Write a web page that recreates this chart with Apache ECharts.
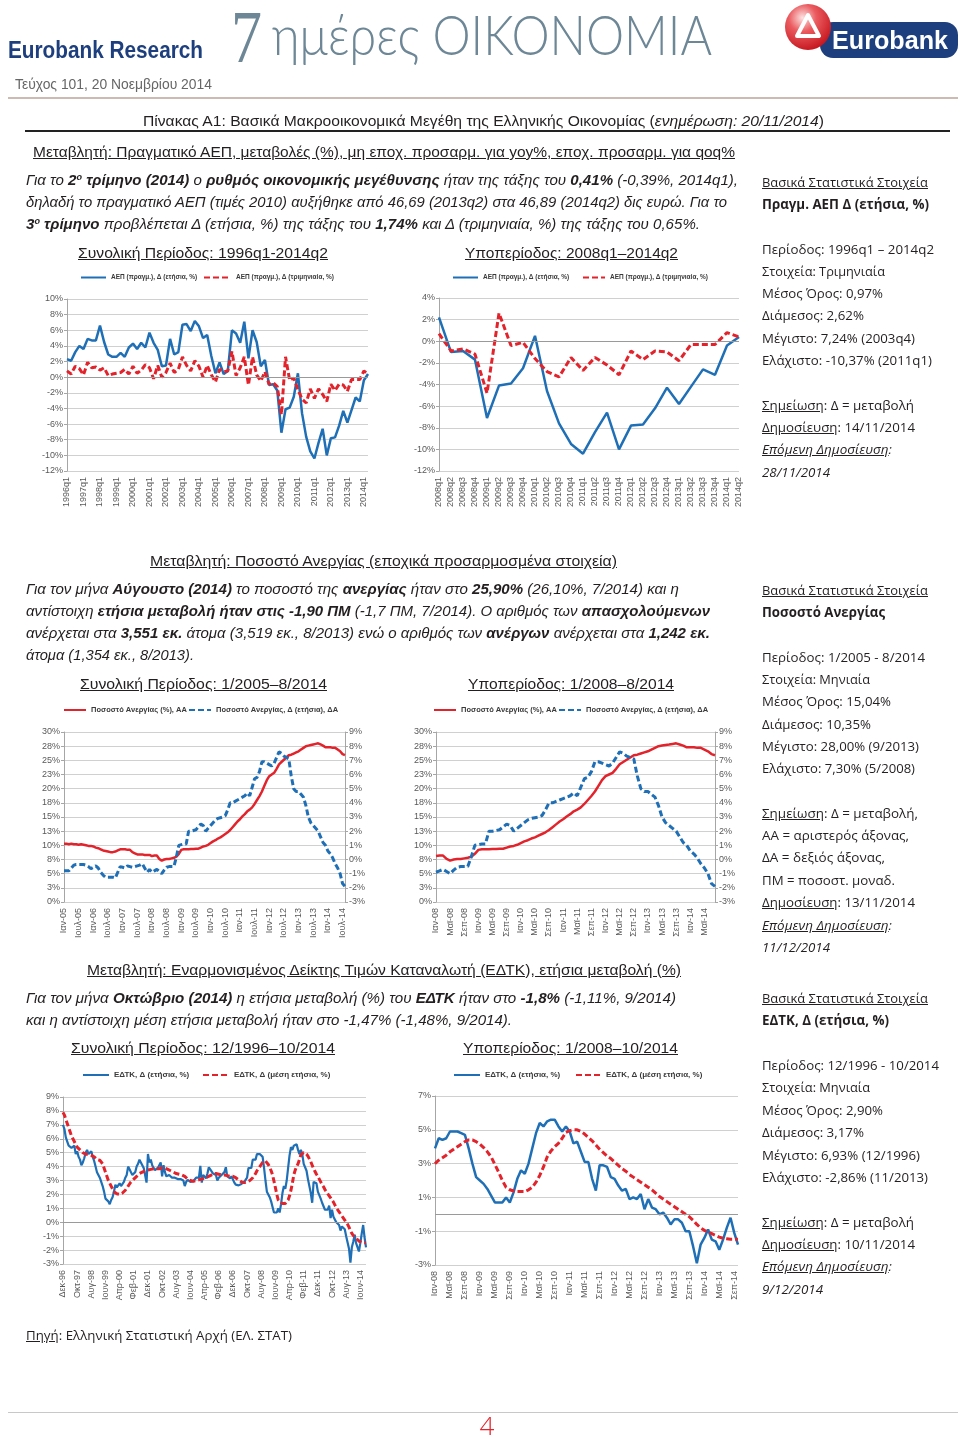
<!DOCTYPE html>
<html><head><meta charset="utf-8">
<script src="https://cdn.jsdelivr.net/npm/echarts@6/dist/echarts.min.js"></script>
<style>
html,body{margin:0;padding:0;background:#fff;}
#page{position:relative;width:960px;height:1438px;overflow:hidden;background:#fff;}
#chart{position:absolute;left:0;top:0;width:960px;height:1438px;}
.t{position:absolute;white-space:nowrap;transform-origin:0 50%;height:20px;line-height:20px;font-family:'Liberation Sans Narrow','Liberation Sans',Arial,sans-serif;font-size:15.5px;color:#231f20;z-index:2;}
.i{font-style:italic;}
.u{text-decoration:underline;}
.r{font-family:'Open Sans','Liberation Sans',sans-serif;font-size:13.5px;}
sup{font-size:0.6em;vertical-align:0.55em;line-height:0;}
.hl{position:absolute;z-index:2;}
</style></head>
<body><div id="page">
<div id="chart"></div>

<svg class="hl" style="left:0;top:0" width="960" height="100">
  <defs>
    <radialGradient id="rg" cx="38%" cy="30%" r="75%">
      <stop offset="0" stop-color="#fde3e2"/><stop offset="0.4" stop-color="#ea5b5f"/><stop offset="1" stop-color="#c4121b"/>
    </radialGradient>
  </defs>
  <text x="8" y="58" font-family="Liberation Sans Narrow, Liberation Sans, Arial" font-weight="bold" font-size="24" fill="#1d3f7e" textLength="195" lengthAdjust="spacingAndGlyphs">Eurobank Research</text>
  <text x="231" y="62" font-family="Liberation Serif, DejaVu Serif, serif" font-size="74" fill="#6d8796" textLength="31" lengthAdjust="spacingAndGlyphs">7</text>
  <text x="272" y="55" font-family="Lato, Open Sans, sans-serif" font-weight="300" font-size="56" fill="#6d8796" textLength="440" lengthAdjust="spacingAndGlyphs">ημέρες ΟΙΚΟΝΟΜΙΑ</text>
  <rect x="820" y="22" width="138" height="36" rx="13" fill="#1d3f7e"/>
  <circle cx="808" cy="27" r="23" fill="url(#rg)"/>
  <path d="M797 36 L808 15 L819 36 Z" fill="none" stroke="#fff" stroke-width="4" stroke-linejoin="round"/>
  <text x="832" y="49" font-family="Liberation Sans, Arial" font-weight="bold" font-size="25" fill="#fff" textLength="116" lengthAdjust="spacingAndGlyphs">Eurobank</text>
  <text x="15" y="89" font-family="Liberation Sans Narrow, Liberation Sans, Arial" font-size="14" fill="#666" textLength="197" lengthAdjust="spacingAndGlyphs">Τεύχος 101, 20 Νοεμβρίου 2014</text>
  <line x1="8" y1="98" x2="958" y2="98" stroke="#cdbab2" stroke-width="2"/>
</svg>

<div class="t" style="left:143px;top:111px" data-w="681">Πίνακας Α1: Βασικά Μακροοικονομικά Μεγέθη της Ελληνικής Οικονομίας (<span class="i">ενημέρωση: 20/11/2014</span>)</div>
<div class="hl" style="left:25px;top:130px;width:925px;height:2px;background:#222"></div>

<!-- Section 1 -->
<div class="t u" style="left:33px;top:142px" data-w="702">Μεταβλητή: Πραγματικό ΑΕΠ, μεταβολές (%), μη εποχ. προσαρμ. για yoy%, εποχ. προσαρμ. για qoq%</div>
<div class="t i" style="left:26px;top:170px" data-w="712">Για το <b>2<sup>ο</sup> τρίμηνο (2014)</b> ο <b>ρυθμός οικονομικής μεγέθυνσης</b> ήταν της τάξης του <b>0,41%</b> (-0,39%, 2014q1),</div>
<div class="t i" style="left:26px;top:192px" data-w="701">δηλαδή το πραγματικό ΑΕΠ (τιμές 2010) αυξήθηκε από 46,69 (2013q2) στα 46,89 (2014q2) δις ευρώ. Για το</div>
<div class="t i" style="left:26px;top:214px" data-w="674"><b>3<sup>ο</sup> τρίμηνο</b> προβλέπεται Δ (ετήσια, %) της τάξης του <b>1,74%</b> και Δ (τριμηνιαία, %) της τάξης του 0,65%.</div>
<div class="t u" style="left:78px;top:243px" data-w="250">Συνολική Περίοδος: 1996q1-2014q2</div>
<div class="t u" style="left:465px;top:243px" data-w="213">Υποπερίοδος: 2008q1–2014q2</div>

<div class="t r" style="left:762px;top:172px" data-w="166"><span class="u">Βασικά Στατιστικά Στοιχεία</span></div>
<div class="t r" style="left:762px;top:194px" data-w="167"><b>Πραγμ. ΑΕΠ Δ (ετήσια, %)</b></div>
<div class="t r" style="left:762px;top:239px" data-w="172">Περίοδος: 1996q1 – 2014q2</div>
<div class="t r" style="left:762px;top:261px" data-w="123">Στοιχεία: Τριμηνιαία</div>
<div class="t r" style="left:762px;top:283px" data-w="121">Μέσος Όρος: 0,97%</div>
<div class="t r" style="left:762px;top:305px" data-w="102">Διάμεσος: 2,62%</div>
<div class="t r" style="left:762px;top:328px" data-w="153">Μέγιστο: 7,24% (2003q4)</div>
<div class="t r" style="left:762px;top:350px" data-w="170">Ελάχιστο: -10,37% (2011q1)</div>
<div class="t r" style="left:762px;top:395px" data-w="152"><span class="u">Σημείωση</span>: Δ = μεταβολή</div>
<div class="t r" style="left:762px;top:417px" data-w="153"><span class="u">Δημοσίευση</span>: 14/11/2014</div>
<div class="t r i" style="left:762px;top:439px" data-w="130"><span class="u">Επόμενη Δημοσίευση</span>:</div>
<div class="t r i" style="left:762px;top:462px" data-w="68">28/11/2014</div>

<!-- Section 2 -->
<div class="t u" style="left:150px;top:551px" data-w="467">Μεταβλητή: Ποσοστό Ανεργίας (εποχικά προσαρμοσμένα στοιχεία)</div>
<div class="t i" style="left:26px;top:579px" data-w="653">Για τον μήνα <b>Αύγουστο (2014)</b> το ποσοστό της <b>ανεργίας</b> ήταν στο <b>25,90%</b> (26,10%, 7/2014) και η</div>
<div class="t i" style="left:26px;top:601px" data-w="684">αντίστοιχη <b>ετήσια μεταβολή ήταν στις -1,90 ΠΜ</b> (-1,7 ΠΜ, 7/2014). Ο αριθμός των <b>απασχολούμενων</b></div>
<div class="t i" style="left:26px;top:623px" data-w="684">ανέρχεται στα <b>3,551 εκ.</b> άτομα (3,519 εκ., 8/2013) ενώ ο αριθμός των <b>ανέργων</b> ανέρχεται στα <b>1,242 εκ.</b></div>
<div class="t i" style="left:26px;top:645px" data-w="168">άτομα (1,354 εκ., 8/2013).</div>
<div class="t u" style="left:80px;top:674px" data-w="247">Συνολική Περίοδος: 1/2005–8/2014</div>
<div class="t u" style="left:468px;top:674px" data-w="206">Υποπερίοδος: 1/2008–8/2014</div>

<div class="t r" style="left:762px;top:580px" data-w="166"><span class="u">Βασικά Στατιστικά Στοιχεία</span></div>
<div class="t r" style="left:762px;top:602px" data-w="123"><b>Ποσοστό Ανεργίας</b></div>
<div class="t r" style="left:762px;top:647px" data-w="163">Περίοδος: 1/2005 - 8/2014</div>
<div class="t r" style="left:762px;top:669px" data-w="108">Στοιχεία: Μηνιαία</div>
<div class="t r" style="left:762px;top:691px" data-w="129">Μέσος Όρος: 15,04%</div>
<div class="t r" style="left:762px;top:714px" data-w="109">Διάμεσος: 10,35%</div>
<div class="t r" style="left:762px;top:736px" data-w="157">Μέγιστο: 28,00% (9/2013)</div>
<div class="t r" style="left:762px;top:758px" data-w="153">Ελάχιστο: 7,30% (5/2008)</div>
<div class="t r" style="left:762px;top:803px" data-w="156"><span class="u">Σημείωση</span>: Δ = μεταβολή,</div>
<div class="t r" style="left:762px;top:825px" data-w="147">ΑΑ = αριστερός άξονας,</div>
<div class="t r" style="left:762px;top:847px" data-w="123">ΔΑ = δεξιός άξονας,</div>
<div class="t r" style="left:762px;top:870px" data-w="133">ΠΜ = ποσοστ. μοναδ.</div>
<div class="t r" style="left:762px;top:892px" data-w="153"><span class="u">Δημοσίευση</span>: 13/11/2014</div>
<div class="t r i" style="left:762px;top:915px" data-w="130"><span class="u">Επόμενη Δημοσίευση</span>:</div>
<div class="t r i" style="left:762px;top:937px" data-w="68">11/12/2014</div>

<!-- Section 3 -->
<div class="t u" style="left:87px;top:960px" data-w="594">Μεταβλητή: Εναρμονισμένος Δείκτης Τιμών Καταναλωτή (ΕΔΤΚ), ετήσια μεταβολή (%)</div>
<div class="t i" style="left:26px;top:988px" data-w="650">Για τον μήνα <b>Οκτώβριο (2014)</b> η ετήσια μεταβολή (%) του <b>ΕΔΤΚ</b> ήταν στο <b>-1,8%</b> (-1,11%, 9/2014)</div>
<div class="t i" style="left:26px;top:1010px" data-w="486">και η αντίστοιχη μέση ετήσια μεταβολή ήταν στο -1,47% (-1,48%, 9/2014).</div>
<div class="t u" style="left:71px;top:1038px" data-w="264">Συνολική Περίοδος: 12/1996–10/2014</div>
<div class="t u" style="left:463px;top:1038px" data-w="215">Υποπερίοδος: 1/2008–10/2014</div>

<div class="t r" style="left:762px;top:988px" data-w="166"><span class="u">Βασικά Στατιστικά Στοιχεία</span></div>
<div class="t r" style="left:762px;top:1010px" data-w="127"><b>ΕΔΤΚ, Δ (ετήσια, %)</b></div>
<div class="t r" style="left:762px;top:1055px" data-w="177">Περίοδος: 12/1996 - 10/2014</div>
<div class="t r" style="left:762px;top:1077px" data-w="108">Στοιχεία: Μηνιαία</div>
<div class="t r" style="left:762px;top:1100px" data-w="121">Μέσος Όρος: 2,90%</div>
<div class="t r" style="left:762px;top:1122px" data-w="102">Διάμεσος: 3,17%</div>
<div class="t r" style="left:762px;top:1145px" data-w="158">Μέγιστο: 6,93% (12/1996)</div>
<div class="t r" style="left:762px;top:1167px" data-w="166">Ελάχιστο: -2,86% (11/2013)</div>
<div class="t r" style="left:762px;top:1212px" data-w="152"><span class="u">Σημείωση</span>: Δ = μεταβολή</div>
<div class="t r" style="left:762px;top:1234px" data-w="153"><span class="u">Δημοσίευση</span>: 10/11/2014</div>
<div class="t r i" style="left:762px;top:1256px" data-w="130"><span class="u">Επόμενη Δημοσίευση</span>:</div>
<div class="t r i" style="left:762px;top:1279px" data-w="61">9/12/2014</div>

<div class="t r" style="left:26px;top:1325px" data-w="266"><span class="u">Πηγή</span>: Ελληνική Στατιστική Αρχή (ΕΛ. ΣΤΑΤ)</div>
<div class="hl" style="left:8px;top:1412px;width:950px;height:1px;background:#c8c8c8"></div>
<div class="hl" style="left:477px;top:1410px;width:20px;height:30px;line-height:30px;text-align:center;font-family:'Open Sans','Liberation Sans',sans-serif;font-weight:300;font-size:26px;color:#e3232b">4</div>
</div>

<script>
// ---------- DATA ----------
const monthNames = ['Ιαν','Φεβ','Μαρ','Απρ','Μαϊ','Ιουν','Ιουλ','Αυγ','Σεπ','Οκτ','Νοε','Δεκ'];

// Real GDP, 1996q1 - 2014q2
const gdpYoY = [
  2.3,2.1,3.2,4.0,  3.6,4.9,4.7,4.7,  6.6,4.5,2.9,2.6,  2.6,3.1,2.6,3.8,
  4.3,3.6,4.4,3.8,  5.7,4.4,3.5,1.4,  1.5,4.9,2.9,3.2,  6.7,6.8,5.9,7.2,
  6.5,5.0,5.4,2.7,  0.5,1.9,0.4,0.8,  6.0,5.6,4.4,7.1,  2.4,6.0,4.5,1.4,
  2.2,-1.0,-0.9,-1.7, -7.1,-4.1,-3.9,-2.5, 0.5,-4.6,-7.6,-9.5, -10.4,-8.4,-6.6,-10.0,
  -7.8,-7.7,-6.2,-4.3, -5.8,-4.2,-2.6,-3.1, -0.4,0.4
];
const gdpQoQ = [
  0.8,0.4,1.4,1.1,  0.3,1.9,1.2,1.3,  0.9,1.2,0.2,0.4,  0.5,0.6,1.0,0.4,
  1.4,0.5,0.9,1.6,  1.2,-0.2,1.5,0.0, 0.6,1.8,0.6,1.0,  2.6,1.5,0.8,2.1,
  1.4,0.0,1.5,0.3,  -0.6,1.0,0.7,0.8, 3.3,0.2,1.2,2.6,  -1.0,2.6,0.3,-0.5,
  0.7,-0.9,-0.7,-1.2, -4.8,2.6,-0.4,-0.1, -1.6,-2.8,-3.3,-1.5, -2.7,-1.5,-2.2,-3.1,
  -0.9,-1.7,-0.9,-1.0, -1.8,-0.3,-0.3,-0.3, 0.8,0.4
];

// Unemployment rate (%), 1/2005 - 8/2014
const unempRate = [
  10.3,10.3,10.2,10.3,10.2,10.2,10.1,10.2,10.1,10.0,9.9,9.9,
  9.8,9.6,9.5,9.3,9.1,9.0,8.9,8.8,8.8,8.9,9.1,9.3,
  9.3,9.3,9.2,9.2,8.8,8.6,8.4,8.4,8.4,8.3,8.3,8.3,
  8.1,8.2,8.2,7.6,7.3,7.5,7.6,7.6,7.7,7.8,8.0,8.5,
  9.2,9.3,9.3,9.3,9.35,9.35,9.4,9.4,9.6,9.8,9.9,10.1,
  10.4,10.7,10.9,11.2,11.4,11.7,12.0,12.3,12.7,13.2,13.7,14.2,
  14.6,15.1,15.5,16.0,16.3,16.7,17.3,18.0,18.7,19.5,20.5,21.5,
  22.2,22.5,22.8,23.5,24.3,24.7,25.1,25.5,25.9,26.0,26.2,26.4,
  26.6,26.9,27.2,27.5,27.6,27.7,27.8,27.9,28.0,27.8,27.6,27.3,
  27.3,27.3,27.2,27.2,26.9,26.6,26.1,25.9
];
// Unemployment rate, annual change (pp)
const unempChange = [
  -0.8,-0.8,-0.8,-0.6,-0.4,-0.35,-0.35,-0.35,-0.35,-0.4,-0.5,-0.65,
  -0.55,-0.45,-0.6,-0.9,-1.1,-1.25,-1.25,-1.25,-1.25,-1.3,-0.9,-0.5,
  -0.55,-0.6,-0.45,-0.5,-0.55,-0.5,-0.45,-0.4,-0.3,-0.6,-0.9,-0.7,
  -0.9,-0.8,-0.7,-0.85,-1.0,-0.75,-0.55,-0.5,-0.5,-0.5,0.2,1.0,
  1.05,1.1,1.1,2.0,2.0,2.05,2.1,2.3,2.5,2.4,2.0,2.2,
  2.4,2.6,2.8,2.9,2.95,3.0,3.1,3.5,4.0,4.0,4.1,4.2,
  4.3,4.4,4.5,4.7,4.5,5.1,5.7,5.8,6.2,6.9,6.9,6.8,
  6.7,6.6,6.8,7.2,7.6,7.5,7.3,7.2,7.1,5.9,5.0,4.8,
  4.8,4.6,4.4,3.8,3.0,2.6,2.4,2.2,2.0,1.6,1.2,1.0,
  0.6,0.4,0.1,-0.3,-0.6,-1.0,-1.7,-1.9
];

// HICP annual change (%), 12/1996 - 10/2014
const hicpAnnual = [
  7.0,
  6.7,6.1,5.8,5.5,5.5,5.35,5.3,5.5,4.9,5.1,4.7,4.5,
  4.1,4.3,4.6,5.0,5.2,4.9,5.0,5.1,4.7,4.4,4.0,3.6,
  3.4,3.2,3.2,2.6,2.2,1.7,1.6,1.5,1.3,1.6,1.8,2.2,
  2.7,2.5,2.6,2.8,2.6,2.7,2.9,3.2,3.4,4.0,3.8,3.6,
  3.4,3.5,3.6,4.0,4.2,4.5,4.3,4.2,3.9,3.4,2.85,4.9,
  4.3,4.5,4.1,3.9,3.75,3.65,3.9,4.0,4.3,3.3,4.1,3.6,
  3.3,3.4,3.4,3.3,3.2,3.15,3.2,3.15,3.1,3.05,3.1,3.05,
  3.0,2.6,2.9,3.05,2.95,2.9,2.8,2.95,3.05,3.2,3.3,3.2,
  4.05,2.85,3.4,3.4,3.15,3.5,3.95,3.8,3.75,3.5,3.45,3.4,
  3.0,3.2,3.3,3.4,3.35,3.6,3.95,3.3,3.2,3.15,3.3,3.2,
  2.85,2.7,2.6,2.65,2.7,2.75,2.8,2.9,2.9,3.2,3.9,3.9,
  3.9,4.5,4.4,4.5,4.9,4.9,4.9,4.8,4.7,3.9,3.0,2.2,
  2.0,1.8,1.5,1.1,0.7,0.7,0.7,1.0,0.7,1.3,2.1,2.6,
  2.4,3.0,3.9,4.8,5.4,5.2,5.5,5.6,5.6,5.2,4.9,5.2,
  4.9,4.2,4.3,3.7,3.1,3.1,2.1,1.4,2.9,2.9,2.8,2.2,
  2.1,1.7,1.4,1.5,0.9,1.0,0.9,1.2,0.3,0.9,0.4,0.3,
  0.0,0.1,-0.2,-0.6,-0.3,-0.3,-0.5,-1.0,-1.0,-1.9,-2.9,-1.8,
  -1.4,-0.9,-1.5,-1.6,-2.1,-1.5,-0.8,-0.2,-1.1,-1.8
];
// HICP average annual change (%)
const hicpAvg = [
  7.9,
  7.7,7.4,7.1,6.8,6.5,6.2,6.0,5.8,5.6,5.4,5.3,5.2,
  5.1,5.0,4.95,4.9,4.9,4.85,4.85,4.8,4.75,4.7,4.6,4.5,
  4.5,4.45,4.4,4.2,3.9,3.6,3.3,3.0,2.8,2.6,2.4,2.2,
  2.1,2.05,2.0,2.0,2.05,2.1,2.2,2.3,2.45,2.6,2.75,2.9,
  3.0,3.1,3.2,3.3,3.4,3.5,3.55,3.6,3.65,3.7,3.7,3.75,
  3.8,3.8,3.85,3.85,3.85,3.85,3.85,3.85,3.9,3.9,3.9,3.9,
  3.85,3.8,3.75,3.7,3.65,3.6,3.55,3.5,3.5,3.45,3.45,3.4,
  3.35,3.3,3.2,3.1,3.05,3.0,2.95,2.95,2.95,3.0,3.0,3.05,
  3.1,3.1,3.15,3.2,3.2,3.25,3.3,3.35,3.4,3.45,3.5,3.5,
  3.45,3.45,3.4,3.4,3.4,3.4,3.35,3.35,3.3,3.3,3.3,3.3,
  3.25,3.2,3.15,3.05,2.95,2.9,2.85,2.85,2.85,2.9,2.95,3.0,
  3.0,3.2,3.35,3.5,3.7,3.85,4.0,4.15,4.3,4.4,4.4,4.3,
  4.15,3.95,3.7,3.4,2.95,2.5,2.0,1.6,1.45,1.38,1.35,1.35,
  1.35,1.45,1.6,1.9,2.3,2.8,3.4,3.75,4.0,4.2,4.5,4.85,
  4.95,5.0,5.0,4.9,4.75,4.55,4.35,4.1,3.85,3.65,3.45,3.3,
  3.1,2.9,2.7,2.55,2.35,2.2,2.05,1.9,1.75,1.6,1.45,1.25,
  1.05,0.9,0.75,0.6,0.45,0.3,0.15,0.0,-0.15,-0.35,-0.6,-0.8,
  -0.95,-1.05,-1.15,-1.25,-1.35,-1.42,-1.45,-1.48,-1.48,-1.47
];

// ---------- CATEGORIES ----------
const gdpCats = [];
for (let y = 1996; y <= 2014; y++) for (let q = 1; q <= 4; q++) gdpCats.push(y + 'q' + q);
gdpCats.length = gdpYoY.length;
function monthCats(startYear, startMonth, n) {
  const out = [];
  let y = startYear, m = startMonth;
  for (let i = 0; i < n; i++) {
    out.push(monthNames[m] + '-' + String(y).slice(2));
    m++; if (m === 12) { m = 0; y++; }
  }
  return out;
}
const unCats = monthCats(2005, 0, unempRate.length);
const hicpCats = monthCats(1996, 11, hicpAnnual.length);
const gdpSub = gdpCats.indexOf('2008q1');
const unSub = unCats.indexOf('Ιαν-08');
const hicpSub = hicpCats.indexOf('Ιαν-08');

// ---------- NAMES / STYLES ----------
const S_GY = 'ΑΕΠ (πραγμ.), Δ (ετήσια, %)';
const S_GQ = 'ΑΕΠ (πραγμ.), Δ (τριμηνιαία, %)';
const S_U = 'Ποσοστό Ανεργίας (%), ΑΑ';
const S_UD = 'Ποσοστό Ανεργίας, Δ (ετήσια), ΔΑ';
const S_H = 'ΕΔΤΚ, Δ (ετήσια, %)';
const S_HA = 'ΕΔΤΚ, Δ (μέση ετήσια, %)';
const FONT = "'Liberation Sans', Arial, sans-serif";
const LBL = '#595959', GRID = '#d0d0d0', AX = '#a6a6a6';
const BLUE = '#1f6fb6', RED = '#e3232b';

function xAx(gi, cats, interval) {
  return { type: 'category', gridIndex: gi, data: cats, boundaryGap: false,
    axisLine: { show: false }, axisTick: { show: false }, splitLine: { show: false },
    axisLabel: { interval: interval, rotate: 90, fontSize: 9, color: LBL, fontFamily: FONT, margin: 6 } };
}
function yAx(gi, min, max, interval, extra) {
  return Object.assign({ type: 'value', gridIndex: gi, min: min, max: max, interval: interval,
    axisLine: { show: true, lineStyle: { color: AX } },
    axisTick: { show: true, length: 3, lineStyle: { color: AX } },
    splitLine: { show: true, lineStyle: { color: GRID, width: 1 } },
    axisLabel: { fontSize: 9, color: LBL, fontFamily: FONT, margin: 4, formatter: v => Math.round(v) + '%' } }, extra || {});
}
const zeroLine = { silent: true, symbol: 'none', label: { show: false },
  lineStyle: { color: '#9a9a9a', width: 1, type: 'solid' }, data: [{ yAxis: 0 }] };
function line(name, data, xi, yi, color, dashed, width, zero) {
  const s = { type: 'line', name: name, data: data, xAxisIndex: xi, yAxisIndex: yi,
    symbol: 'none', showSymbol: false, silent: true,
    lineStyle: { color: color, width: width, type: dashed ? [6, 3] : 'solid' },
    itemStyle: { color: color } };
  if (zero) s.markLine = zeroLine;
  return s;
}
function leg(name, left, top, iw, fs) {
  return { show: true, left: left, top: top, data: [name], itemWidth: iw, itemHeight: 8,
    selectedMode: false, padding: 0,
    itemStyle: { opacity: 0, borderWidth: 0 },
    textStyle: { fontSize: fs, fontWeight: 'bold', color: '#3a3a3a', fontFamily: "'Liberation Sans Narrow', 'Liberation Sans', Arial" } };
}

const option = {
  animation: false,
  grid: [
    { left: 67, top: 299, width: 301, height: 172 },
    { left: 439, top: 298, width: 300, height: 173 },
    { left: 64, top: 732, width: 281, height: 170 },
    { left: 436, top: 732, width: 279, height: 170 },
    { left: 63, top: 1097, width: 303, height: 167 },
    { left: 435, top: 1096, width: 303, height: 169 }
  ].map(g => Object.assign(g, { outerBoundsMode: 'none', containLabel: false })),
  legend: [
    leg(S_GY, 80, 274, 25, 6.5), leg(S_GQ, 203, 274, 27, 6.5),
    leg(S_GY, 452, 274, 25, 6.5), leg(S_GQ, 582, 274, 22, 6.5),
    leg(S_U, 63, 706, 22, 7.5), leg(S_UD, 188, 706, 22, 7.5),
    leg(S_U, 433, 706, 22, 7.5), leg(S_UD, 558, 706, 22, 7.5),
    leg(S_H, 82, 1071, 26, 8), leg(S_HA, 202, 1071, 26, 8),
    leg(S_H, 453, 1071, 26, 8), leg(S_HA, 575, 1071, 25, 8)
  ],
  xAxis: [
    xAx(0, gdpCats, 3),
    xAx(1, gdpCats.slice(gdpSub), 0),
    xAx(2, unCats, 5),
    xAx(3, unCats.slice(unSub), 3),
    xAx(4, hicpCats, 9),
    xAx(5, hicpCats.slice(hicpSub), 3)
  ],
  yAxis: [
    yAx(0, -12, 10, 2),
    yAx(1, -12, 4, 2),
    yAx(2, 0, 30, 2.5),
    yAx(2, -3, 9, 1, { position: 'right', splitLine: { show: false } }),
    yAx(3, 0, 30, 2.5),
    yAx(3, -3, 9, 1, { position: 'right', splitLine: { show: false } }),
    yAx(4, -3, 9, 1),
    yAx(5, -3, 7, 2)
  ],
  series: [
    line(S_GY, gdpYoY, 0, 0, BLUE, false, 2.5, true),
    line(S_GQ, gdpQoQ, 0, 0, RED, true, 3),
    line(S_GY, gdpYoY.slice(gdpSub), 1, 1, BLUE, false, 2.5, true),
    line(S_GQ, gdpQoQ.slice(gdpSub), 1, 1, RED, true, 3),
    line(S_U, unempRate, 2, 2, RED, false, 2.5),
    line(S_UD, unempChange, 2, 3, BLUE, true, 3),
    line(S_U, unempRate.slice(unSub), 3, 4, RED, false, 2.5),
    line(S_UD, unempChange.slice(unSub), 3, 5, BLUE, true, 3),
    line(S_H, hicpAnnual, 4, 6, BLUE, false, 2.2, true),
    line(S_HA, hicpAvg, 4, 6, RED, true, 3),
    line(S_H, hicpAnnual.slice(hicpSub), 5, 7, BLUE, false, 2.5, true),
    line(S_HA, hicpAvg.slice(hicpSub), 5, 7, RED, true, 3)
  ]
};
const chart = echarts.init(document.getElementById('chart'), null, { renderer: 'canvas' });
chart.setOption(option);

// fit each text line to its measured width in the reference
function fitText() {
  document.querySelectorAll('[data-w]').forEach(el => {
    el.style.transform = 'none';
    const w = el.getBoundingClientRect().width;
    if (w > 0) el.style.transform = 'scaleX(' + (parseFloat(el.dataset.w) / w) + ')';
  });
}
fitText();
if (document.fonts && document.fonts.ready) document.fonts.ready.then(fitText);
</script>
</body></html>
